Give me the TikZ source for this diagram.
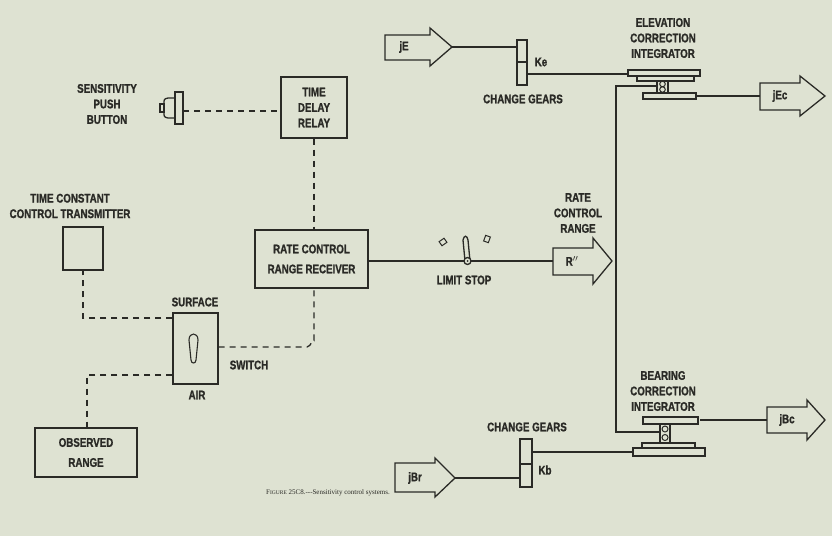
\documentclass[tikz,border=0pt]{standalone}
\usepackage{fontspec}
\setmainfont{Liberation Sans}[FakeStretch=0.78,FakeBold=1.2]
\newfontfamily\capfont{Liberation Serif}
\definecolor{bg}{HTML}{DEE2D2}
\definecolor{ink}{HTML}{2A2A26}
\begin{document}
\begin{tikzpicture}[x=1pt,y=-1pt,line width=1.3pt,draw=ink,
  lbl/.style={font=\fontsize{12.5}{15.5}\selectfont\bfseries,text=ink,align=center,inner sep=0pt},
  box/.style={draw=ink,line width=1.3pt},
  dsh/.style={dash pattern=on 6pt off 5pt},
  bigarrow/.style={draw=ink,line width=1.3pt,fill=bg}]
\fill[bg] (0,0) rectangle (832,536);
\useasboundingbox (0,0) rectangle (832,536);
% ---- arrows
\draw[bigarrow] (385,35)--(430,35)--(430,28)--(452,47)--(430,66)--(430,60)--(385,60)--cycle;
\node[lbl] (jE) at (404,47) {jE};
\draw[bigarrow] (760,83)--(800,83)--(800,76)--(825,96)--(800,116)--(800,110)--(760,110)--cycle;
\node[lbl] (jEc) at (780,96) {jEc};
\draw[bigarrow] (553,248)--(593,248)--(593,238)--(612,261)--(593,284)--(593,275)--(553,275)--cycle;
\node[lbl] (R) at (572,261) {R$''$};
\draw[bigarrow] (767,407)--(807,407)--(807,400)--(825,420)--(807,440)--(807,433)--(767,433)--cycle;
\node[lbl] (jBc) at (787,420) {jBc};
\draw[bigarrow] (395,463)--(435,463)--(435,458)--(455,478)--(435,497)--(435,492)--(395,492)--cycle;
\node[lbl] (jBr) at (415,478) {jBr};
% ---- elevation gear & integrator
\draw[box] (517,40) rectangle (527,62); \draw[box] (517,62) rectangle (527,85);
\node[lbl] at (541,62) {Ke};
\node[lbl] at (523,99) {CHANGE GEARS};
\draw (452,47)--(517,47);
\draw (527,74)--(628,74);
\draw[box,fill=bg] (628,70) rectangle (700,76);
\draw[box,fill=bg] (637,76) rectangle (694,81);
\draw (657,81)--(657,92); \draw (668,81)--(668,92);
\draw[line width=1pt] (662.5,84) circle (2.8); \draw[line width=1pt] (662.5,89.5) circle (2.8);
\draw[box,fill=bg] (643,93) rectangle (696,99);
\draw (696,96)--(760,96);
\node[lbl] at (663,38) {ELEVATION\\CORRECTION\\INTEGRATOR};
% ---- shaft
\draw (657,86)--(616,86)--(616,432)--(660,432);
% ---- bearing integrator & gear
\node[lbl] at (663,391) {BEARING\\CORRECTION\\INTEGRATOR};
\draw[box,fill=bg] (643,417) rectangle (698,424);
\draw (700,420)--(767,420);
\draw (660,424)--(660,443); \draw (670,424)--(670,443);
\draw[line width=1pt] (665,429) circle (3); \draw[line width=1pt] (665,437.5) circle (3);
\draw[box,fill=bg] (642,443) rectangle (695,448);
\draw[box,fill=bg] (633,448) rectangle (705,456);
\draw (532,452)--(633,452);
\draw[box] (520,439) rectangle (532,464); \draw[box] (520,464) rectangle (532,487);
\node[lbl] at (545,470) {Kb};
\node[lbl] at (527,427) {CHANGE GEARS};
\draw (455,478)--(520,478);
% ---- left side
\node[lbl] at (107,104) {SENSITIVITY\\PUSH\\BUTTON};
\draw[box] (160,104) rectangle (164,112);
\draw[box] (175,98) -- (168,98) .. controls (164,99) .. (164,104) -- (164,112) .. controls (164,117) .. (168,118) -- (175,118);
\draw[box,fill=bg] (175,92) rectangle (183,124);
\node[box,minimum width=66pt,minimum height=61pt,lbl] (tdr) at (314,107.5) {TIME\\DELAY\\RELAY};
\draw[dsh] (183,111)--(tdr.west|-183,111);
\node[box,minimum width=113pt,minimum height=58pt,lbl,font=\fontsize{12.5}{20}\selectfont\bfseries] (rcr) at (311.5,259) {RATE CONTROL\\RANGE RECEIVER};
\draw[dsh] (tdr.south)--(rcr.north-|tdr.south);
\draw (rcr.east|-0,261)--(553,261);
% limit stop
\draw[box,fill=bg] (465,261) -- (463,240) .. controls (464,235) and (467,235) .. (468,240) -- (470,261);
\draw[box,fill=bg] (467.5,261) circle (3.5); \fill[ink] (467.5,261) circle (1);
\draw[box,line width=1pt,rotate around={35:(443,242)}] (440,239.5) rectangle (446,244.5);
\draw[box,line width=1pt,rotate around={-20:(487,239)}] (484.5,236) rectangle (489.5,242);
\node[lbl] at (464,280) {LIMIT STOP};
\node[lbl] at (578,213) {RATE\\CONTROL\\RANGE};
% switch
\node[box,minimum width=45pt,minimum height=71pt] (sw) at (195.5,348.5) {};
\draw[box,line width=1.1pt] (191,360) -- (189,340) .. controls (189,332) and (198,332) .. (198,340) -- (196,360) .. controls (196,364) and (191,364) .. (191,360);
\node[lbl] at (195,302) {SURFACE};
\node[lbl] at (197,395) {AIR};
\node[lbl] at (249,365) {SWITCH};
\draw[dsh] (sw.east|-0,347) -- (307,347) to[out=0,in=90] (314,340) -- (rcr.south-|314,0);
% TC transmitter
\node[lbl] at (70,206) {TIME CONSTANT\\CONTROL TRANSMITTER};
\node[box,minimum width=40pt,minimum height=43pt] (tc) at (83,248.5) {};
\draw[dsh] (sw.west|-0,318) -- (83,318) -- (tc.south);
\node[box,minimum width=102pt,minimum height=49pt,lbl,font=\fontsize{12.5}{20}\selectfont\bfseries] (obs) at (86,452.5) {OBSERVED\\RANGE};
\draw[dsh] (sw.west|-0,375) -- (87,375) -- (obs.north-|87,0);
% caption
\node[font=\capfont\fontsize{7}{8}\selectfont,text=ink] at (328,493) {F{\fontsize{5.5}{8}\selectfont IGURE} 25C8.---Sensitivity control systems.};
\end{tikzpicture}
\end{document}
